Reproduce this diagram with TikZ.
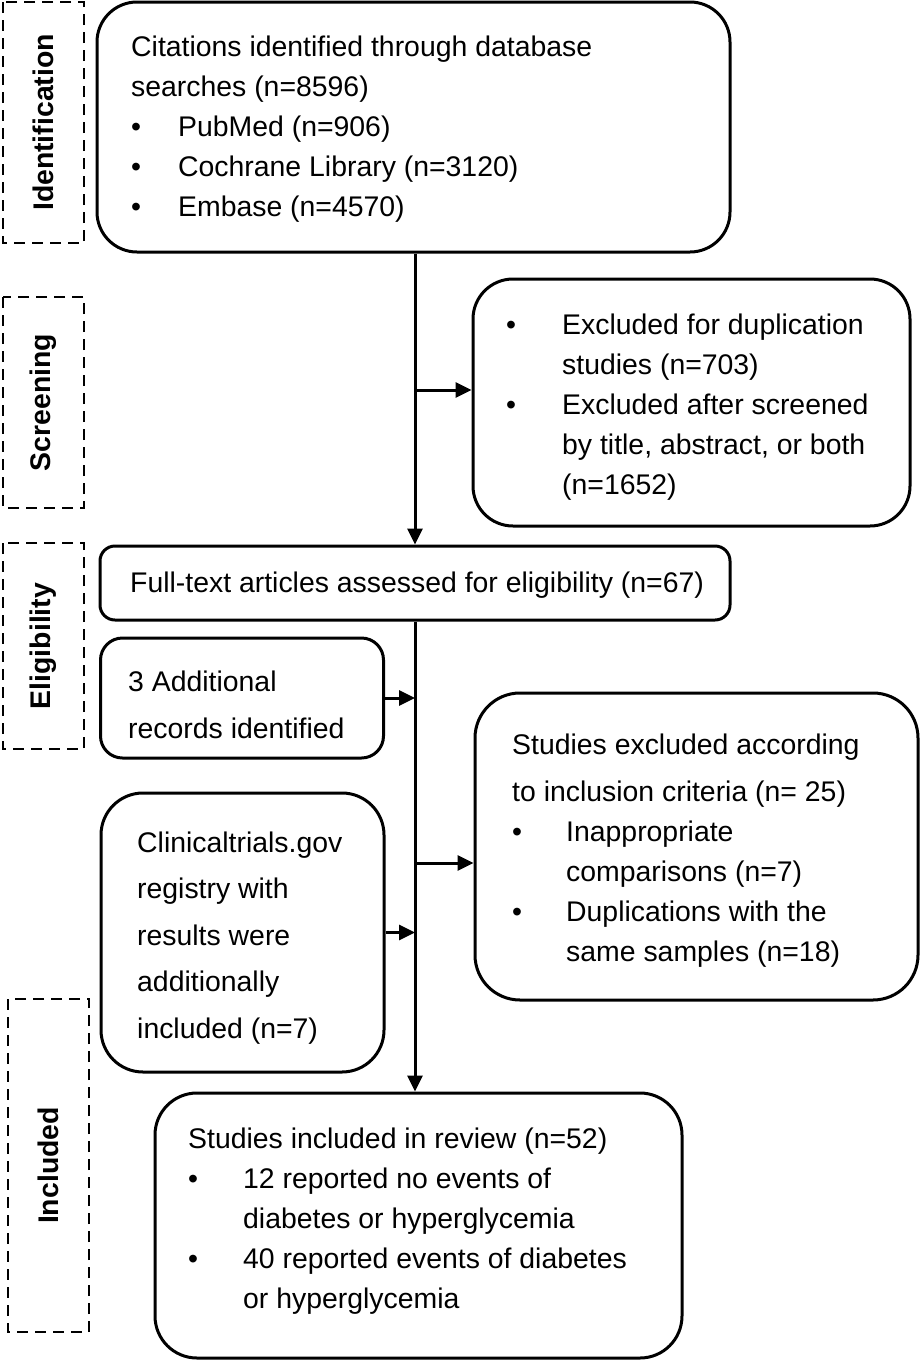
\documentclass[tikz,border=0pt]{standalone}
\usepackage{fontspec}
\setmainfont{Liberation Sans}
\usetikzlibrary{arrows.meta}
\newcommand\bul[1]{\makebox[#1][l]{•}}
\newcommand\ind[1]{\hspace*{#1}}
\begin{document}
\begin{tikzpicture}[x=1pt,y=-1pt,
  box/.style={draw, line width=3pt, inner sep=0pt},
  txt/.style={anchor=west, inner sep=0pt, align=left, font=\fontsize{28.4}{40}\selectfont},
  txtw/.style={anchor=west, inner sep=0pt, align=left, font=\fontsize{28.4}{46.5}\selectfont},
  phase/.style={draw, line width=2.5pt, dash pattern=on 11pt off 7pt, rotate=90,
    inner sep=0pt, minimum height=81pt, font=\bfseries\fontsize{28.4}{34}\selectfont},
  arr/.style={line width=3pt, -{Triangle[length=16pt,width=15pt]}}
]
\useasboundingbox (0,0) rectangle (921,1360);

% phase labels
\node[phase, minimum width=241pt] (p1) at (43.5,122.5) {Identification};
\node[phase, minimum width=211pt] (p2) at (43.5,402.5) {Screening};
\node[phase, minimum width=206pt] (p3) at (43.5,646) {Eligibility};
\node[phase, minimum width=333pt] (p4) at (48.5,1165.5) {Included};

% boxes
\node[box, minimum width=633pt, minimum height=250pt, rounded corners=40pt] (b1) at (413.5,127) {};
\node[box, minimum width=437pt, minimum height=247pt, rounded corners=40pt] (b2) at (691.5,402.5) {};
\node[box, minimum width=630pt, minimum height=74pt, rounded corners=15pt] (b3) at (415,583) {};
\node[box, minimum width=283pt, minimum height=120pt, rounded corners=22pt] (b4) at (242,698) {};
\node[box, minimum width=283pt, minimum height=279pt, rounded corners=42pt] (b5) at (242.5,932.5) {};
\node[box, minimum width=443pt, minimum height=307pt, rounded corners=45pt] (b6) at (696.5,846.5) {};
\node[box, minimum width=527pt, minimum height=265pt, rounded corners=42pt] (b7) at (418.5,1225.5) {};

% texts
\node[txt] (t1) at (131,129) {Citations identified through database\\
searches (n=8596)\\
\bul{47pt}PubMed (n=906)\\
\bul{47pt}Cochrane Library (n=3120)\\
\bul{47pt}Embase (n=4570)};
\node[txt] (t2) at (506,407) {\bul{56pt}Excluded for duplication\\
\ind{56pt}studies (n=703)\\
\bul{56pt}Excluded after screened\\
\ind{56pt}by title, abstract, or both\\
\ind{56pt}(n=1652)};
\node[txt] (t3) at (130,585) {Full-text articles assessed for eligibility (n=67)};
\node[txtw] (t4) at (128,705) {3 Additional\\records identified};
\node[txtw] (t5) at (137,938) {Clinicaltrials.gov\\registry with\\results were\\additionally\\included (n=7)};
\node[txt] (t6) at (512,851) {Studies excluded according\\[7pt]
to inclusion criteria (n= 25)\\
\bul{54pt}Inappropriate\\
\ind{54pt}comparisons (n=7)\\
\bul{54pt}Duplications with the\\
\ind{54pt}same samples (n=18)};
\node[txt] (t7) at (188,1221) {Studies included in review (n=52)\\
\bul{55pt}12 reported no events of\\
\ind{55pt}diabetes or hyperglycemia\\
\bul{55pt}40 reported events of diabetes\\
\ind{55pt}or hyperglycemia};

% connectors
\coordinate (sx) at (415,0);
\coordinate (j1) at (415,390);
\coordinate (j2) at (415,863);
\draw[arr] (b1.south -| sx) -- (b3.north -| sx);
\draw[arr] (j1) -- (j1 -| b2.west);
\draw[arr] (b3.south -| sx) -- (b7.north -| sx);
\draw[arr] (b4.east) -- (b4.east -| sx);
\draw[arr] (b5.east) -- (b5.east -| sx);
\draw[arr] (j2) -- (j2 -| b6.west);
\end{tikzpicture}
\end{document}
